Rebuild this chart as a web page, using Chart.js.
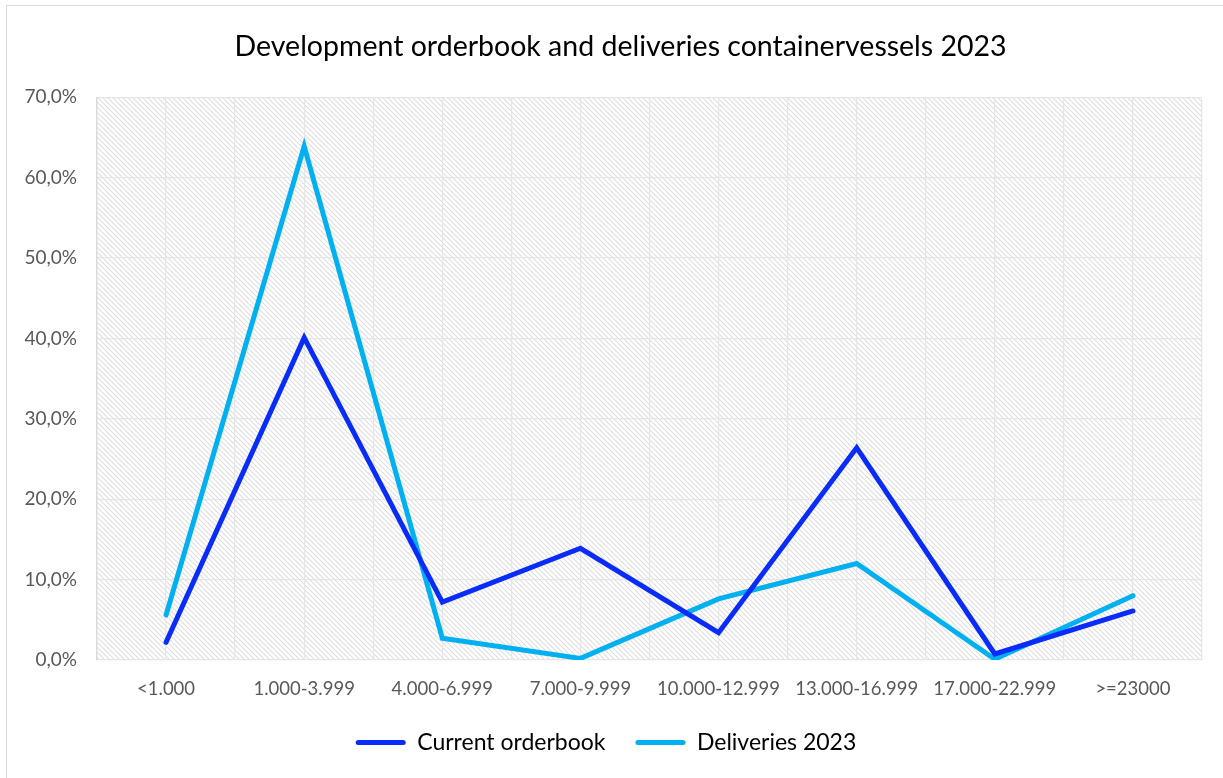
<!DOCTYPE html>
<html>
<head>
<meta charset="utf-8">
<script src="https://cdn.jsdelivr.net/npm/chart.js@4"></script>
<style>
  body { margin: 0; background: #fff; overflow: hidden; }
  #wrap { position: relative; width: 1223px; height: 778px; }
  #frame { position: absolute; left: 6px; top: 5px; width: 1230px; height: 790px; border: 1px solid #d9d9d9; box-sizing: border-box; pointer-events: none; }
</style>
</head>
<body>
<div id="wrap">
  <canvas id="chart" width="1223" height="778"></canvas>
  <div id="frame"></div>
</div>
<script>
const categories = ["<1.000", "1.000-3.999", "4.000-6.999", "7.000-9.999", "10.000-12.999", "13.000-16.999", "17.000-22.999", ">=23000"];
const currentOrderbook = [2.2, 40.1, 7.2, 13.9, 3.4, 26.4, 0.75, 6.1];
const deliveries2023 = [5.6, 63.9, 2.7, 0.2, 7.6, 12.0, 0.1, 8.0];
const yTicks = [0, 10, 20, 30, 40, 50, 60, 70];

const font = "Lato";

// hatched background of the plot area
function makeHatch() {
  const c = document.createElement('canvas');
  c.width = 5; c.height = 5;
  const g = c.getContext('2d');
  g.strokeStyle = '#dedede';
  g.lineWidth = 1.1;
  g.beginPath();
  g.moveTo(-1, -1); g.lineTo(6, 6);
  g.moveTo(-1, 4); g.lineTo(1, 6);
  g.moveTo(4, -1); g.lineTo(6, 1);
  g.stroke();
  return g.createPattern(c, 'repeat');
}

const hatchPlugin = {
  id: 'hatch',
  beforeDraw(chart) {
    const a = chart.chartArea;
    const ctx = chart.ctx;
    ctx.save();
    ctx.fillStyle = makeHatch();
    ctx.fillRect(a.left, a.top, a.right - a.left, a.bottom - a.top);
    ctx.restore();
  }
};

new Chart(document.getElementById('chart'), {
  type: 'line',
  data: {
    labels: categories,
    datasets: [
      {
        label: 'Current orderbook',
        data: currentOrderbook,
        borderColor: '#0A2CFA',
        backgroundColor: '#0A2CFA',
        borderWidth: 5,
        pointRadius: 0,
        borderCapStyle: 'round',
        borderJoinStyle: 'miter'
      },
      {
        label: 'Deliveries 2023',
        data: deliveries2023,
        borderColor: '#00B0F0',
        backgroundColor: '#00B0F0',
        borderWidth: 5,
        pointRadius: 0,
        borderCapStyle: 'round',
        borderJoinStyle: 'miter'
      }
    ]
  },
  options: {
    responsive: false,
    animation: false,
    layout: { padding: { left: 10, right: 21, top: 30, bottom: 14 } },
    plugins: {
      title: {
        display: true,
        // leading spaces nudge the centred title a little to the right
        text: '    Development orderbook and deliveries containervessels 2023',
        color: '#000',
        font: { family: font, size: 28.5, weight: 'normal' },
        padding: { top: 0, bottom: 33 }
      },
      legend: {
        position: 'bottom',
        labels: {
          color: '#000',
          font: { family: font, size: 23 },
          boxWidth: 50,
          boxHeight: 5,
          padding: 30,
          generateLabels(chart) {
            const items = Chart.defaults.plugins.legend.labels.generateLabels(chart);
            items.forEach(it => { it.lineWidth = 0; it.borderRadius = 2.5; });
            return items;
          }
        }
      },
      tooltip: { enabled: false }
    },
    scales: {
      x: {
        offset: true,
        grid: { display: false },
        border: { display: false },
        ticks: { color: '#595959', font: { family: font, size: 18.5 }, maxRotation: 0, padding: 10 },
        afterFit(scale) { scale.height = 41; }
      },
      xGrid: {
        type: 'linear',
        position: 'bottom',
        min: -0.5,
        max: categories.length - 0.5,
        display: true,
        ticks: { display: false, stepSize: 0.5 },
        grid: { color: '#e6e6e6', lineWidth: 1.3, drawTicks: false },
        border: { display: false },
        afterFit(scale) { scale.height = 0; }
      },
      y: {
        min: 0,
        max: 70,
        ticks: {
          stepSize: 10,
          color: '#595959',
          font: { family: font, size: 19 },
          padding: 20,
          callback: v => yTicks.includes(v) ? v.toFixed(1).replace('.', ',') + '%' : ''
        },
        grid: { color: '#e6e6e6', lineWidth: 1.3, drawTicks: false },
        border: { display: true, color: '#d9d9d9', width: 1.3 },
        afterFit(scale) { scale.width = 87; }
      }
    }
  },
  plugins: [hatchPlugin]
});
</script>
</body>
</html>
